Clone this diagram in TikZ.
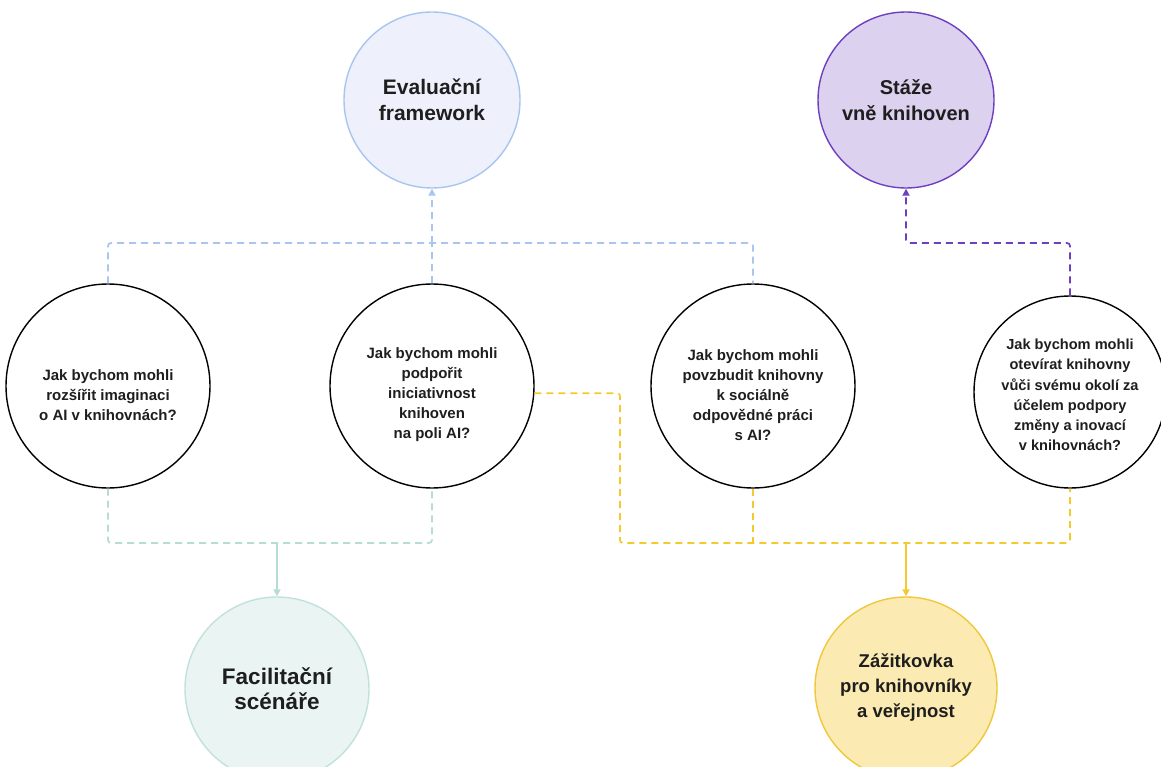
\documentclass[tikz,border=0pt]{standalone}
\usepackage{fontspec}
\setmainfont{Liberation Sans}
\usetikzlibrary{arrows.meta}
\definecolor{txt}{HTML}{1E1E1E}
\definecolor{evline}{HTML}{A9C5EF}
\definecolor{evfill}{HTML}{EEF1FC}
\definecolor{evc}{HTML}{A9C6F0}
\definecolor{stline}{HTML}{6E3FC1}
\definecolor{stfill}{HTML}{DCD1EE}
\definecolor{stc}{HTML}{6E40C0}
\definecolor{faline}{HTML}{C0E2DB}
\definecolor{fafill}{HTML}{EAF4F2}
\definecolor{fac}{HTML}{B5DDD5}
\definecolor{zaline}{HTML}{F1C73C}
\definecolor{zafill}{HTML}{FBEBB3}
\definecolor{zac}{HTML}{F3C92E}
\begin{document}
\begin{tikzpicture}[x=1pt,y=-1pt,
  qbox/.style={circle, draw=black, line width=1.4pt, fill=white, minimum size=204pt, inner sep=0pt},
  qtext/.style={align=center, text=txt, inner sep=0pt, font=\bfseries\fontsize{15}{20}\selectfont},
  bigbox/.style={circle, line width=1.4pt, minimum size=176pt, inner sep=0pt, align=center, text=txt},
  dl/.style={dash pattern=on 7pt off 5pt, line width=1.7pt, rounded corners=3pt},
  sl/.style={line width=1.7pt},
  arr/.style={-{Triangle[length=7pt,width=7pt]}}]
\useasboundingbox (0,0) rectangle (1161,767);
\fill[white] (0,0) rectangle (1161,767);

\coordinate (bj) at (432,243);
\coordinate (gj) at (277,543);
\coordinate (yk) at (620,543);
\coordinate (yj) at (906,543);
\coordinate (pj) at (906,243);

\node[bigbox, fill=evfill, draw=evline, font=\bfseries\fontsize{21}{26}\selectfont] (ev) at (432,100) {Evaluační\\framework};
\node[bigbox, fill=stfill, draw=stline, font=\bfseries\fontsize{20}{26}\selectfont] (st) at (906,100) {Stáže\\vně knihoven};
\node[bigbox, minimum size=184pt, fill=fafill, draw=faline, font=\bfseries\fontsize{22.5}{25}\selectfont] (fa) at (277,689) {Facilitační\\scénáře};
\node[bigbox, minimum size=182pt, fill=zafill, draw=zaline, font=\bfseries\fontsize{18.5}{25}\selectfont] (za) at (906,688) {Zážitkovka\\pro knihovníky\\a veřejnost};

\node[qbox] (q1) at (108,386) {};
\node[qbox] (q2) at (432,386) {};
\node[qbox] (q3) at (753,386) {};
\node[qbox, minimum size=192pt] (q4) at (1070,392) {};
\node[qtext] (q1t) at ([yshift=-9pt]q1.center) {Jak bychom mohli\\rozšířit imaginaci\\o AI v knihovnách?};
\node[qtext] (q2t) at ([yshift=-9pt]q2.center) {Jak bychom mohli\\podpořit\\iniciativnost\\knihoven\\na poli AI?};
\node[qtext] (q3t) at ([yshift=-9pt]q3.center) {Jak bychom mohli\\povzbudit knihovny\\k sociálně\\odpovědné práci\\s AI?};
\node[qtext, font=\bfseries\fontsize{14.6}{20.2}\selectfont] (q4t) at ([yshift=-3pt]q4.center) {Jak bychom mohli\\otevírat knihovny\\vůči svému okolí za\\účelem podpory\\změny a inovací\\v knihovnách?};

% blue
\draw[dl, evc] (q1.north) -- (q1.north |- bj) -- (q3.north |- bj) -- (q3.north);
\draw[dl, evc] (q2.north) -- (bj);
\draw[dl, evc, arr] (bj) -- (ev.south);
% green
\draw[dl, fac] (q1.south) -- (q1.south |- gj) -- (q2.south |- gj) -- (q2.south);
\draw[sl, fac, arr] (gj) -- (fa.north);
% yellow
\draw[dl, zac] (q2.-4) -| (yk) -- (q4.south |- yk) -- (q4.south);
\draw[dl, zac] (q3.south) -- (q3.south |- yk);
\draw[sl, zac, arr] (yj) -- (za.north);
% purple
\draw[dl, stc, arr] (q4.north) |- (pj) -- (st.south);
\end{tikzpicture}
\end{document}
